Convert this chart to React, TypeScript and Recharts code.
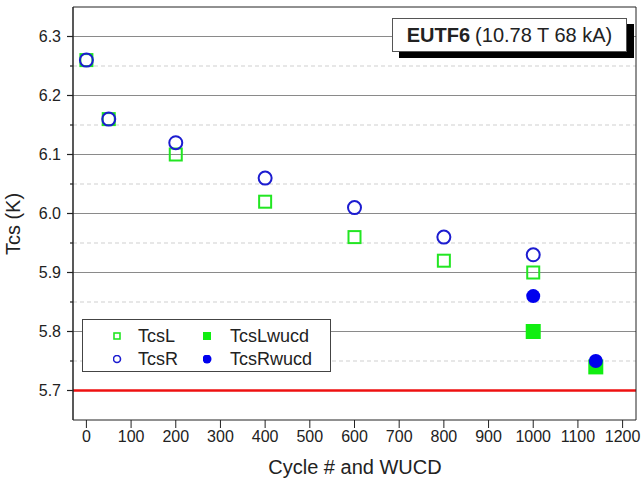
import React from "react";
import { ScatterChart, Scatter, XAxis, YAxis, ReferenceLine } from "recharts";

// cycle number for the regular measurements
const cycles = [0, 50, 200, 400, 600, 800, 1000];
const tcsL = [6.26, 6.16, 6.1, 6.02, 5.96, 5.92, 5.9];
const tcsR = [6.26, 6.16, 6.12, 6.06, 6.01, 5.96, 5.93];

// after warm-up / cool-down
const wucdCycles = [1000, 1140];
const tcsLwucd = [5.8, 5.74];
const tcsRwucd = [5.86, 5.75];

const xTicks = [0, 100, 200, 300, 400, 500, 600, 700, 800, 900, 1000, 1100, 1200];
const yMajor = [5.7, 5.8, 5.9, 6.0, 6.1, 6.2, 6.3];
const yMinor = [5.75, 5.85, 5.95, 6.05, 6.15, 6.25];
const tcsLimit = 5.7;

const title = "EUTF6";
const subtitle = "(10.78 T 68 kA)";

const FONT = '"Liberation Sans", Arial, sans-serif';
const GREEN = "#22e622";
const BLUE = "#1c1cd0";

const toPoints = (xs: number[], ys: number[]) => xs.map((x, i) => ({ x, y: ys[i] }));

const OpenSquare = (p: any) => (
  <rect x={p.cx - 6} y={p.cy - 6} width={12} height={12} fill="none" stroke={GREEN} strokeWidth={2} />
);
const OpenCircle = (p: any) => (
  <circle cx={p.cx} cy={p.cy} r={6.5} fill="none" stroke={BLUE} strokeWidth={2} />
);
const FilledSquare = (p: any) => (
  <rect x={p.cx - 7.5} y={p.cy - 7.5} width={15} height={15} fill="#11ee11" />
);
const FilledCircle = (p: any) => <circle cx={p.cx} cy={p.cy} r={7} fill="#0000ee" />;

const allY = [...yMajor, ...yMinor].sort((a, b) => a - b);

const LeftTick = (p: any) => {
  const v = p.payload.value;
  const axisX = p.x + 6 + 6;
  const major = yMajor.some((m) => Math.abs(m - v) < 1e-6);
  return (
    <g>
      <line x1={axisX - (major ? 6 : 3)} x2={axisX} y1={p.y} y2={p.y} stroke="#222" strokeWidth={1.2} />
      {major && (
        <text x={p.x} y={p.y} dy={5} textAnchor="end" fontSize={16} fill="#222" fontFamily={FONT}>
          {v.toFixed(1)}
        </text>
      )}
    </g>
  );
};

const NoTick = () => <g />;

const legendItems = [
  { name: "TcsL", marker: <rect x={1} y={1} width={6} height={6} fill="none" stroke={GREEN} strokeWidth={1.6} /> },
  { name: "TcsLwucd", marker: <rect x={0} y={0} width={8} height={8} fill="#11ee11" /> },
  { name: "TcsR", marker: <circle cx={4} cy={4} r={3.5} fill="none" stroke={BLUE} strokeWidth={1.6} /> },
  { name: "TcsRwucd", marker: <circle cx={4} cy={4} r={4.5} fill="#0000ee" /> },
];

export default function App() {
  return (
    <div style={{ position: "absolute", left: 0, top: 0, width: 642, height: 483, background: "#fff", fontFamily: FONT }}>
      <ScatterChart width={642} height={483} margin={{ top: 7, right: 6, bottom: 33, left: 0 }}>
        <XAxis
          type="number"
          dataKey="x"
          domain={[-30, 1230]}
          ticks={xTicks}
          tickSize={8}
          tickMargin={3}
          height={30}
          stroke="#222"
          tick={{ fontSize: 16, fill: "#222", fontFamily: FONT }}
          interval={0}
          label={{
            content: () => (
              <text x={355} y={474} textAnchor="middle" fontSize={20} fill="#222" fontFamily={FONT}>
                Cycle # and WUCD
              </text>
            ),
          }}
        />
        <XAxis
          xAxisId="top"
          type="number"
          orientation="top"
          mirror
          domain={[-30, 1230]}
          ticks={xTicks}
          tickSize={7}
          stroke="#222"
          tick={NoTick}
          interval={0}
        />
        <YAxis
          type="number"
          dataKey="y"
          domain={[5.65, 6.35]}
          ticks={allY}
          width={73}
          tickSize={6}
          tickMargin={6}
          tickLine={false}
          interval={0}
          stroke="#222"
          strokeWidth={1.5}
          tick={LeftTick}
          label={{
            content: () => (
              <text
                x={20}
                y={224}
                textAnchor="middle"
                fontSize={20}
                fill="#222"
                fontFamily={FONT}
                transform="rotate(-90 20 224)"
              >
                Tcs (K)
              </text>
            ),
          }}
        />
        <YAxis
          yAxisId="right"
          type="number"
          orientation="right"
          mirror
          domain={[5.65, 6.35]}
          ticks={allY}
          tickSize={5}
          interval={0}
          stroke="#222"
          tick={NoTick}
        />
        {yMinor.map((v) => (
          <ReferenceLine key={"m" + v} y={v} stroke="#cfcfcf" strokeDasharray="4 3" />
        ))}
        {yMajor
          .filter((v) => v !== tcsLimit)
          .map((v) => (
            <ReferenceLine key={"M" + v} y={v} stroke="#8a8a8a" strokeWidth={1} />
          ))}
        <ReferenceLine y={tcsLimit} stroke="#ee1111" strokeWidth={2.5} />
        <Scatter name="TcsL" data={toPoints(cycles, tcsL)} shape={OpenSquare} isAnimationActive={false} />
        <Scatter name="TcsR" data={toPoints(cycles, tcsR)} shape={OpenCircle} isAnimationActive={false} />
        <Scatter name="TcsLwucd" data={toPoints(wucdCycles, tcsLwucd)} shape={FilledSquare} isAnimationActive={false} />
        <Scatter name="TcsRwucd" data={toPoints(wucdCycles, tcsRwucd)} shape={FilledCircle} isAnimationActive={false} />
      </ScatterChart>

      {/* legend box */}
      <div
        style={{
          position: "absolute",
          left: 82,
          top: 319,
          width: 249,
          height: 53,
          border: "1px solid #444",
          background: "#fff",
          boxSizing: "border-box",
        }}
      >
        {legendItems.map((it, i) => {
          const col = i % 2;
          const row = Math.floor(i / 2);
          return (
            <div
              key={it.name}
              style={{
                position: "absolute",
                left: col === 0 ? 30 : 120,
                top: 5 + row * 23,
                height: 22,
                display: "flex",
                alignItems: "center",
                fontSize: 18,
                color: "#222",
              }}
            >
              <svg width={9} height={9} style={{ marginRight: col === 0 ? 16 : 18 }}>
                {it.marker}
              </svg>
              {it.name}
            </div>
          );
        })}
      </div>

      {/* title box */}
      <div
        style={{
          position: "absolute",
          left: 392,
          top: 18,
          width: 235,
          height: 34,
          border: "1px solid #555",
          background: "#fff",
          boxShadow: "7px 6px 0 #000",
          boxSizing: "border-box",
          display: "flex",
          alignItems: "center",
          justifyContent: "center",
          fontSize: 20,
          color: "#222",
          whiteSpace: "nowrap",
        }}
      >
        <b>{title}</b>
        <span style={{ marginLeft: 5 }}>{subtitle}</span>
      </div>
    </div>
  );
}
